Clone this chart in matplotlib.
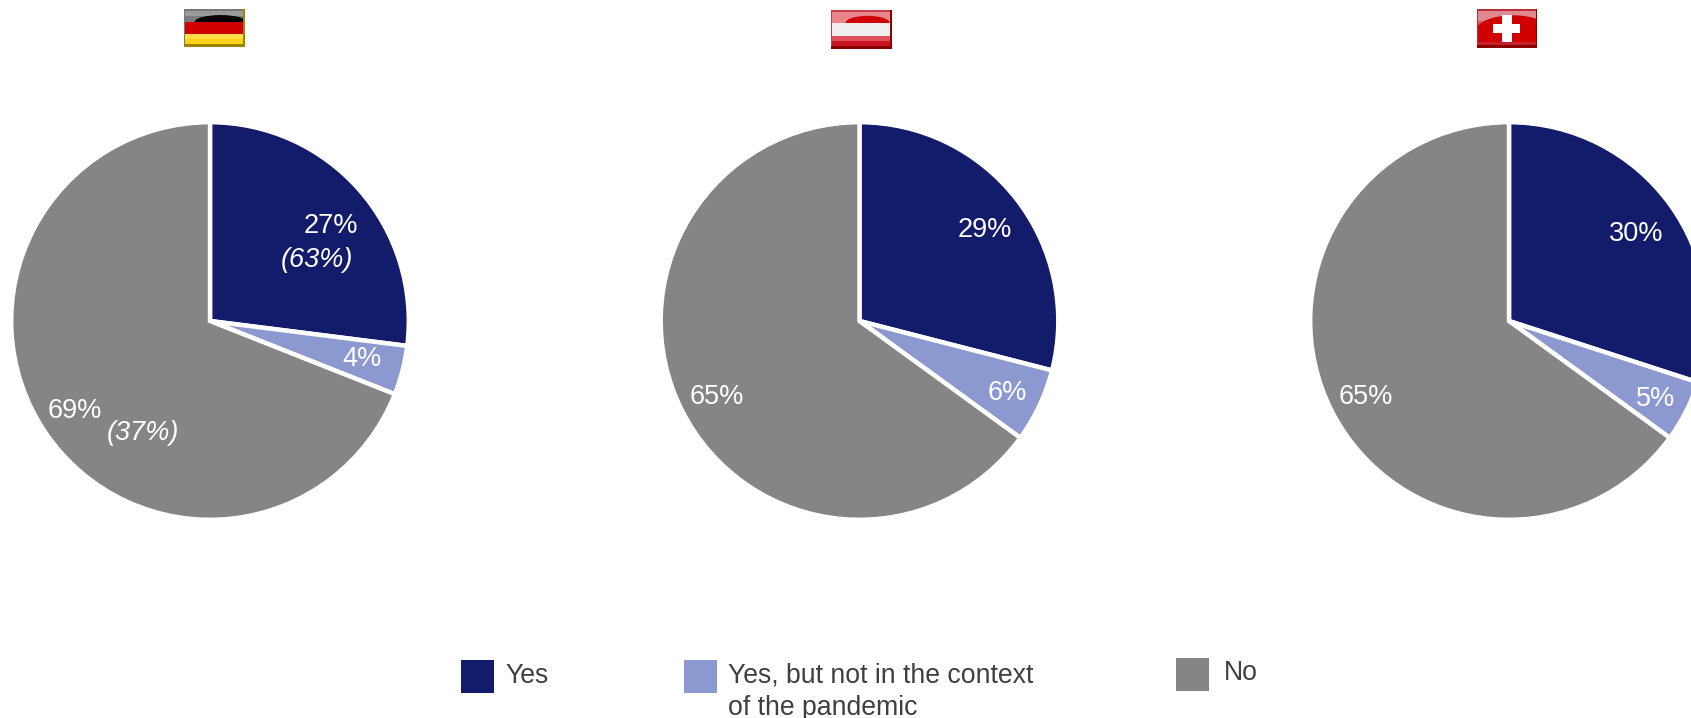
import matplotlib
matplotlib.use('Agg')
import matplotlib.pyplot as plt
from matplotlib.patches import Rectangle, Ellipse

plt.rcParams['font.family'] = ['Liberation Sans', 'DejaVu Sans']

W, H = 1691, 718

labels = ['Yes', 'Yes, but not in the context\nof the pandemic', 'No']
colors = ['#131c6b', '#8c98d0', '#858585']

germany = [27, 4, 69]
austria = [29, 6, 65]
switzerland = [30, 5, 65]

germany_notes = ['(63%)', None, '(37%)']


def px_axes(fig, x0, y0, x1, y1):
    # axes placed by pixel box, y measured from the top
    return fig.add_axes([x0 / W, 1 - y1 / H, (x1 - x0) / W, (y1 - y0) / H])


def draw_pie(fig, cx, values):
    r = 198.8
    cy = 321
    ax = px_axes(fig, cx - r, cy - r, cx + r, cy + r)
    ax.pie(values, colors=colors, startangle=90, counterclock=False, radius=1,
           wedgeprops=dict(edgecolor='white', linewidth=3.2))
    ax.set_xlim(-1, 1)
    ax.set_ylim(-1, 1)
    ax.set_aspect('auto')
    return ax


def put_text(x, y, s, size=19.5, color='white', **kw):
    fig.text(x / W, 1 - y / H, s, fontsize=size, color=color, va='center', **kw)


def flag_axes(fig, x0, y0, x1, y1):
    ax = px_axes(fig, x0, y0, x1, y1)
    ax.set_xlim(0, 1)
    ax.set_ylim(1, 0)
    ax.axis('off')
    return ax


def band(ax, y0, y1, color, z=2, alpha=1):
    ax.add_patch(Rectangle((0, y0), 1, y1 - y0, color=color, lw=0, zorder=z, alpha=alpha))


def frame(ax, left_top, right_bottom):
    # bevel: lighter top/left, darker bottom/right
    ax.add_patch(Rectangle((0, 0), 1, 0.04, color=left_top, lw=0, zorder=7))
    ax.add_patch(Rectangle((0, 0), 0.02, 1, color=left_top, lw=0, zorder=7))
    ax.add_patch(Rectangle((0, 0.93), 1, 0.07, color=right_bottom, lw=0, zorder=7))
    ax.add_patch(Rectangle((0.975, 0), 0.025, 1, color=right_bottom, lw=0, zorder=7))


fig = plt.figure(figsize=(W / 100, H / 100), dpi=100, facecolor='white')

draw_pie(fig, 210, germany)
draw_pie(fig, 859.5, austria)
draw_pie(fig, 1509, switzerland)

# slice labels
put_text(331, 226, f'{germany[0]}%', ha='center')
put_text(317, 260, germany_notes[0], ha='center', style='italic')
put_text(362, 359, f'{germany[1]}%', ha='center')
put_text(75, 411, f'{germany[2]}%', ha='center')
put_text(143, 433, germany_notes[2], ha='center', style='italic')

put_text(984.5, 230, f'{austria[0]}%', ha='center')
put_text(1007, 393, f'{austria[1]}%', ha='center')
put_text(717, 397, f'{austria[2]}%', ha='center')

put_text(1636, 234, f'{switzerland[0]}%', ha='center')
put_text(1656, 399, f'{switzerland[1]}%', ha='center')
put_text(1366, 397, f'{switzerland[2]}%', ha='center')

# German flag
ax = flag_axes(fig, 184, 9, 245, 47)
band(ax, 0, 0.18, '#9a9a9a')
band(ax, 0.18, 0.34, '#7c7c7c')
ax.add_patch(Ellipse((0.6, 0.34), 0.85, 0.36, color='#000000', lw=0, zorder=3))
band(ax, 0.34, 0.66, '#d00000', z=4)
band(ax, 0.66, 0.8, '#ffe04a', z=4)
band(ax, 0.8, 1.0, '#ffd21a', z=4)
frame(ax, '#777777', '#9a8400')

# Austrian flag
ax = flag_axes(fig, 831, 10, 892, 49)
band(ax, 0, 0.33, '#e8868c')
ax.add_patch(Ellipse((0.6, 0.33), 0.72, 0.36, color='#d00000', lw=0, zorder=3))
band(ax, 0.33, 0.66, '#eeeeee', z=4)
band(ax, 0.66, 0.8, '#e0505a', z=4)
band(ax, 0.8, 1.0, '#c81420', z=4)
frame(ax, '#c44048', '#8a0000')

# Swiss flag
ax = flag_axes(fig, 1477, 9, 1537, 48)
band(ax, 0, 0.3, '#e08a90')
band(ax, 0.3, 0.55, '#d95a62')
band(ax, 0.55, 1.0, '#c80010')
ax.add_patch(Ellipse((0.6, 0.58), 1.25, 0.84, color='#d00000', lw=0, zorder=3))
band(ax, 0.85, 1.0, '#c4202c', z=4)
ax.add_patch(Rectangle((0.27, 0.39), 0.45, 0.22, color='white', lw=0, zorder=5))
ax.add_patch(Rectangle((0.42, 0.155), 0.155, 0.69, color='white', lw=0, zorder=5))
frame(ax, '#b83038', '#8a0000')

# legend
legend_boxes = [(461, 660), (684, 660), (1176, 658)]
legend_text = [(505, 677), (728, 676), (1224, 674)]
for (bx, by), (tx, ty), c, s in zip(legend_boxes, legend_text, colors, labels):
    box = px_axes(fig, bx, by, bx + 33, by + 33)
    box.set_facecolor(c)
    box.set_xticks([])
    box.set_yticks([])
    for sp in box.spines.values():
        sp.set_visible(False)
    fig.text(tx / W, 1 - (ty - 14) / H, s, fontsize=19.2, color='#404040', va='top',
             linespacing=1.33)

fig.savefig('out.png', dpi=100)
